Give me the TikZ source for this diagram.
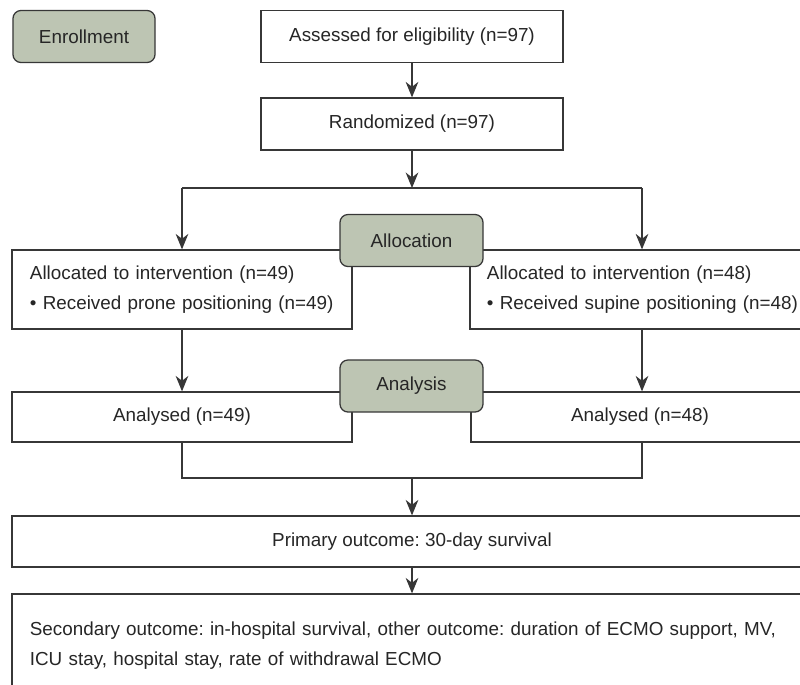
\documentclass[tikz,border=0pt]{standalone}
\usepackage{fontspec}
\setmainfont{Liberation Sans}
\usetikzlibrary{arrows.meta}
\definecolor{stagegreen}{RGB}{189,197,179}
\definecolor{linegray}{RGB}{55,55,55}
\frenchspacing

\begin{document}
\begin{tikzpicture}[x=0.025cm,y=-0.025cm,
    every node/.style={font=\fontsize{13.4pt}{21.3pt}\selectfont,text=black!85},
    box/.style={draw=linegray,line width=0.9pt,fill=white,inner sep=0pt},
    listbox/.style={box,align=left,inner xsep=0.45cm},
    stage/.style={draw=linegray,line width=0.9pt,fill=stagegreen,rounded corners=0.2cm,
      minimum width=3.575cm,minimum height=1.3cm},
    link/.style={draw=linegray,line width=0.9pt},
    arr/.style={link,-{Stealth[length=11pt,width=9pt,inset=3.5pt]}}]
  \useasboundingbox (0,0) rectangle (800,684);
  \clip (0,0) rectangle (800,684);

  % boxes of the flow
  \node[box,minimum width=7.55cm,minimum height=1.3cm] (assess) at (412,36.5) {Assessed for eligibility (n=97)};
  \node[box,minimum width=7.55cm,minimum height=1.3cm] (rand) at (412,124) {Randomized (n=97)};
  \node[listbox,text width=7.6cm,minimum height=1.975cm] (allocL) at (182,289.5)
    {Allocated to intervention (n=49)\\\textbullet\ Received prone positioning (n=49)};
  \node[listbox,inner xsep=0.425cm,text width=8.2cm,minimum height=1.975cm] (allocR) at (651,289.5)
    {Allocated to intervention (n=48)\\\textbullet\ Received supine positioning (n=48)};
  \node[box,minimum width=8.5cm,minimum height=1.25cm] (anaL) at (182,417) {Analysed (n=49)};
  \node[box,minimum width=8.45cm,minimum height=1.25cm] (anaR) at (640,417) {Analysed (n=48)};
  \node[box,minimum width=20cm,minimum height=1.275cm] (primary) at (412,541.5) {Primary outcome: 30-day survival};
  \node[listbox,text width=19.1cm,minimum height=2.575cm] (second) at (412,645.5)
    {Secondary outcome: in-hospital survival, other outcome: duration of ECMO support, MV,\\ICU stay, hospital stay, rate of withdrawal ECMO};

  % connectors
  \coordinate (forkL) at (182,188);
  \coordinate (forkR) at (642,188);
  \coordinate (joinL) at (182,478);
  \coordinate (joinR) at (642,478);
  \draw[arr] (assess) -- (rand);
  \draw[arr] (rand) -- (rand |- forkL);
  \draw[link] (forkL) -- (forkR);
  \draw[arr] (forkL) -- (allocL);
  \draw[arr] (forkR) -- (forkR |- allocR.north);
  \draw[arr] (allocL) -- (anaL);
  \draw[arr] (forkR |- allocR.south) -- (forkR |- anaR.north);
  \draw[link] (anaL) -- (joinL) -- (joinR) -- (joinR |- anaR.south);
  \draw[arr] (primary |- joinL) -- (primary);
  \draw[arr] (primary) -- (second);

  % stage labels
  \node[stage,minimum width=3.55cm] (enrol) at (84,36.5) {Enrollment};
  \node[stage] (allocation) at (411.5,240.5) {Allocation};
  \node[stage] (analysis) at (411.5,386) {Analysis};
\end{tikzpicture}
\end{document}
